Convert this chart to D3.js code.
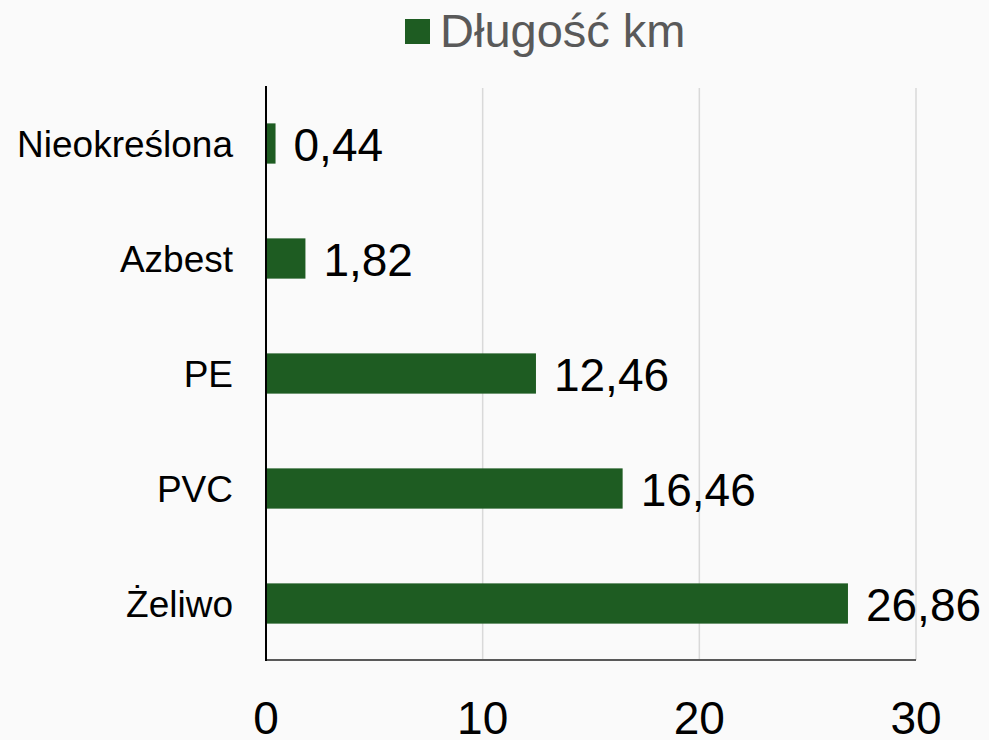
<!DOCTYPE html>
<meta charset="utf-8">
<style>
body { margin: 0; background: #fafafa; }
text { font-family: "Liberation Sans", Arial, sans-serif; }
</style>
<svg width="989" height="740"></svg>
<script src="https://d3js.org/d3.v7.min.js"></script>
<script>

var categories = ["Nieokreślona", "Azbest", "PE", "PVC", "Żeliwo"];
var values = [0.44, 1.82, 12.46, 16.46, 26.86];
var labels = ["0,44", "1,82", "12,46", "16,46", "26,86"];
var xTicks = [0, 10, 20, 30];
var seriesName = "Długość km";

var barColour = "#1e5c22";

var svg = d3.select("svg");

svg.append("rect")
   .attr("width", 989)
   .attr("height", 740)
   .attr("fill", "#fafafa");

var x = d3.scaleLinear().domain([0, 30]).range([266, 916]);
var y = d3.scaleBand().domain(categories).range([86, 661])
          .paddingInner(0.65).paddingOuter(0.325);

// gridlines
svg.append("g")
   .selectAll("line")
   .data(xTicks.slice(1))
   .join("line")
   .attr("x1", d => x(d))
   .attr("x2", d => x(d))
   .attr("y1", 88)
   .attr("y2", 660)
   .attr("stroke", "#d9d9d9")
   .attr("stroke-width", 1.5);

// bars
svg.append("g")
   .selectAll("rect")
   .data(values)
   .join("rect")
   .attr("x", x(0))
   .attr("y", (d, i) => y(categories[i]))
   .attr("width", d => x(d) - x(0))
   .attr("height", y.bandwidth())
   .attr("fill", barColour);

// value labels
svg.append("g")
   .selectAll("text")
   .data(values)
   .join("text")
   .attr("x", d => x(d) + 18)
   .attr("y", (d, i) => y(categories[i]) + y.bandwidth() / 2 + 17)
   .style("font-size", "46px")
   .attr("fill", "#000")
   .text((d, i) => labels[i]);

// bottom axis line
svg.append("line")
   .attr("x1", x(0))
   .attr("x2", x(30))
   .attr("y1", 660)
   .attr("y2", 660)
   .attr("stroke", "#595959")
   .attr("stroke-width", 2);

// vertical axis line
svg.append("line")
   .attr("x1", x(0))
   .attr("x2", x(0))
   .attr("y1", 86)
   .attr("y2", 661)
   .attr("stroke", "#000")
   .attr("stroke-width", 2);

// x tick labels
svg.append("g")
   .selectAll("text")
   .data(xTicks)
   .join("text")
   .attr("x", d => x(d))
   .attr("y", 734)
   .attr("text-anchor", "middle")
   .style("font-size", "46px")
   .attr("fill", "#000")
   .text(d => d);

// category labels
svg.append("g")
   .selectAll("text")
   .data(categories)
   .join("text")
   .attr("x", 233)
   .attr("y", d => y(d) + y.bandwidth() / 2 + 13)
   .attr("text-anchor", "end")
   .style("font-size", "37px")
   .attr("fill", "#000")
   .text(d => d);

// legend
svg.append("rect")
   .attr("x", 405)
   .attr("y", 19)
   .attr("width", 25)
   .attr("height", 25)
   .attr("fill", barColour);

svg.append("text")
   .attr("x", 440)
   .attr("y", 47)
   .style("font-size", "47px")
   .attr("fill", "#595959")
   .text(seriesName);

</script>
